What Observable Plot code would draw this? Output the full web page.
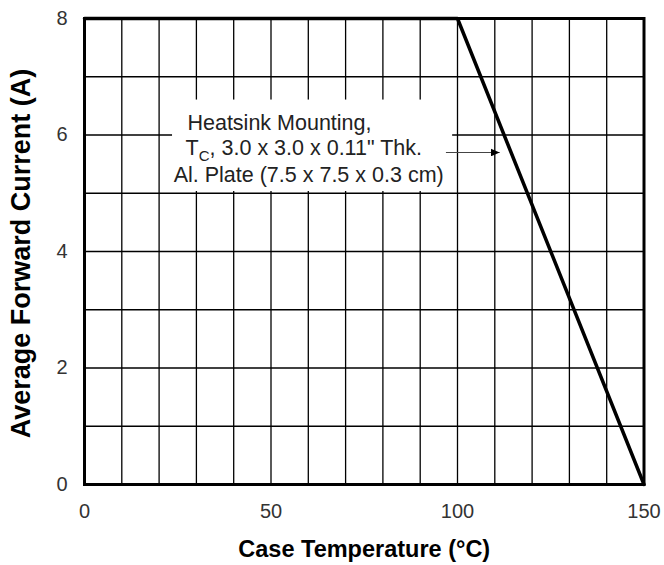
<!DOCTYPE html>
<html><head><meta charset="utf-8">
<script src="https://cdn.jsdelivr.net/npm/d3@7"></script>
<script src="https://cdn.jsdelivr.net/npm/@observablehq/plot@0.6"></script>
<style>body{margin:0;background:#fff;}</style>
</head><body><div id="chart"></div>
<script>
// Derating curve
const temps = [0, 100, 150];
const current = [8, 8, 0];
// Axes
const xTickValues = [0, 50, 100, 150];
const yTickValues = [0, 2, 4, 6, 8];
const xGrid = [10, 20, 30, 40, 50, 60, 70, 80, 90, 100, 110, 120, 130, 140];
const yGrid = [1, 2, 3, 4, 5, 6, 7];
const xLabel = "Case Temperature (°C)";
const yLabel = "Average Forward Current (A)";
// Annotation
const noteLines = ["Heatsink Mounting,", "TC, 3.0 x 3.0 x 0.11\" Thk.", "Al. Plate (7.5 x 7.5 x 0.3 cm)"];
const noteX = [27.6, 27.1, 23.9];
const noteY = [6.21, 5.77, 5.32];
const noteBox = [{x1: 23.6, x2: 98.7, y1: 5.03, y2: 6.6}];
const noteArrow = [{x1: 96.9, y1: 5.70, x2: 111.3, y2: 5.70}];

const curve = temps.map((t, i) => ({t, c: current[i]}));

function filledArrow(color, context) {
  const doc = (context && context.document) || document;
  const m = d3.select(doc.createElementNS("http://www.w3.org/2000/svg", "marker"))
    .attr("viewBox", "-9 -4 10 8")
    .attr("markerWidth", 10).attr("markerHeight", 8)
    .attr("markerUnits", "userSpaceOnUse")
    .attr("orient", "auto")
    .attr("fill", "#000").attr("stroke", "none");
  m.append("path").attr("d", "M-9,-4L0,0L-9,4Z");
  return m.node();
}

const font = "'Liberation Sans', Arial, Helvetica, sans-serif";

const chart = Plot.plot({
  width: 664,
  height: 565,
  marginLeft: 84,
  marginRight: 20.5,
  marginTop: 18,
  marginBottom: 81,
  style: {fontFamily: font, background: "#fff"},
  x: {domain: [0, 150]},
  y: {domain: [0, 8]},
  marks: [
    Plot.gridX(xGrid, {stroke: "#000", strokeOpacity: 1, strokeWidth: 1.3}),
    Plot.gridY(yGrid, {stroke: "#000", strokeOpacity: 1, strokeWidth: 1.3}),
    Plot.rect(noteBox, {x1: "x1", x2: "x2", y1: "y1", y2: "y2", fill: "#fff"}),
    Plot.text(noteLines, {x: (d, i) => noteX[i], y: (d, i) => noteY[i], text: d => d, textAnchor: "start", fontSize: 21.5, fill: "#222"}),
    Plot.link(noteArrow, {x1: "x1", y1: "y1", x2: "x2", y2: "y2", stroke: "#444", strokeWidth: 1.2, markerEnd: filledArrow}),
    Plot.line(curve, {x: "t", y: "c", stroke: "#000", strokeWidth: 3.5}),
    Plot.frame({stroke: "#000", strokeWidth: 3}),
    Plot.axisX(xTickValues, {tickSize: 0, tickPadding: 19, fontSize: 20, fill: "#333", label: null, tickFormat: d => String(d)}),
    Plot.axisY(yTickValues, {tickSize: 0, tickPadding: 17, fontSize: 20, fill: "#333", label: null, tickFormat: d => String(d)}),
    Plot.text([xLabel], {frameAnchor: "bottom", dy: 65, fontSize: 23.5, fontWeight: "bold", fill: "#000", lineAnchor: "middle", textAnchor: "middle"}),
    Plot.text([yLabel], {frameAnchor: "left", dx: -63, dy: 2, rotate: -90, fontSize: 27, fontWeight: "bold", fill: "#000", lineAnchor: "middle", textAnchor: "middle"})
  ]
});

// subscript C in "TC"
d3.select(chart).selectAll("text").filter(function() { return this.textContent.startsWith("TC,"); })
  .each(function() {
    const t = d3.select(this);
    const rest = this.textContent.slice(2);
    t.text(null);
    t.append("tspan").text("T");
    t.append("tspan").attr("font-size", 15).attr("dy", 6).text("C");
    t.append("tspan").attr("dy", -6).text(rest);
  });

document.getElementById("chart").appendChild(chart);
</script>
</body></html>
